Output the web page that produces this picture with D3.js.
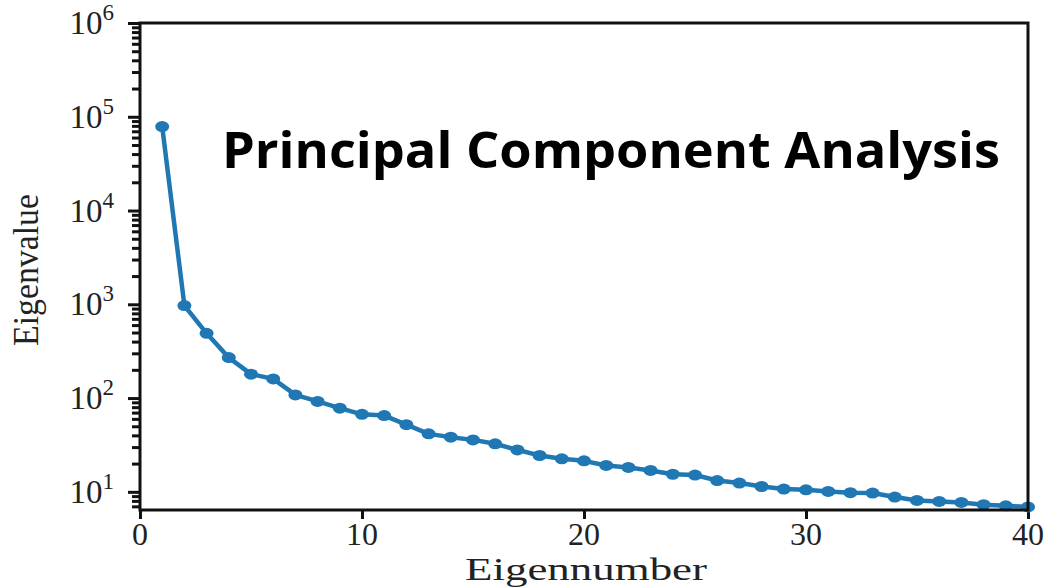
<!DOCTYPE html>
<html>
<head>
<meta charset="utf-8">
<script src="https://cdn.jsdelivr.net/npm/d3@7"></script>
<style>
  body { margin: 0; background: #fff; }
  svg { display: block; }
</style>
</head>
<body>
<svg id="chart" width="1052" height="587"></svg>
<script>
// values
var eigennumber = [1, 2, 3, 4, 5, 6, 7, 8, 9, 10, 11, 12, 13, 14, 15, 16, 17, 18, 19, 20,
                   21, 22, 23, 24, 25, 26, 27, 28, 29, 30, 31, 32, 33, 34, 35, 36, 37, 38, 39, 40];
var eigenvalue = [78500, 970, 490, 270, 180, 160, 108, 92, 78, 67,
                  65, 52, 41.5, 38.3, 35.8, 32.5, 28, 24.4, 22.5, 21.4,
                  19.1, 18.2, 16.9, 15.4, 15.1, 13.2, 12.4, 11.4, 10.7, 10.5,
                  10.1, 9.8, 9.7, 8.8, 8.1, 7.9, 7.7, 7.3, 7.1, 6.9];
var xTicks = [0, 10, 20, 30, 40];
var yMajor = [10, 100, 1000, 10000, 100000, 1000000];
var title = "Principal Component Analysis";
var xLabel = "Eigennumber";
var yLabel = "Eigenvalue";

var svg = d3.select("#chart");
// note: "top" is reserved on window, so plot edges get a prefix
var pLeft = 140, pTop = 23, pRight = 1028, pBottom = 510;
var blue = "#1f77b4";
var serif = "'Liberation Serif', 'DejaVu Serif', serif";

var x = d3.scaleLinear().domain([0, 40]).range([pLeft, pRight]);
var y = d3.scaleLog().domain([6.4, 1e6]).range([pBottom, pTop]);

// minor ticks: everything d3 gives that isn't a power of ten
var minor = y.ticks().filter(function (d) {
    return Math.abs(Math.log10(d) - Math.round(Math.log10(d))) > 1e-6;
});

var yMinorAxis = svg.append("g")
    .attr("transform", "translate(" + pLeft + ",0)")
    .call(d3.axisLeft(y).tickValues(minor).tickSize(8).tickFormat(""));
var yMajorAxis = svg.append("g")
    .attr("transform", "translate(" + pLeft + ",0)")
    .call(d3.axisLeft(y).tickValues(yMajor).tickSize(12).tickFormat(""));
var xAxis = svg.append("g")
    .attr("transform", "translate(0," + pBottom + ")")
    .call(d3.axisBottom(x).tickValues(xTicks).tickSize(9).tickFormat(""));

[yMinorAxis, yMajorAxis, xAxis].forEach(function (g) {
    g.select(".domain").remove();
    g.selectAll(".tick line").attr("stroke", "#111").attr("stroke-width", 3);
});

// y tick labels as 10 with superscript exponent
yMajor.forEach(function (v) {
    var t = svg.append("text")
        .attr("x", 114)
        .attr("y", y(v) + 11)
        .attr("text-anchor", "end")
        .attr("font-family", serif)
        .attr("font-size", 33)
        .attr("fill", "#222");
    t.append("tspan").text("10");
    t.append("tspan")
        .attr("dy", -14)
        .attr("font-size", 23)
        .text(Math.round(Math.log10(v)));
});

xTicks.forEach(function (v) {
    svg.append("text")
        .attr("x", x(v))
        .attr("y", 545)
        .attr("text-anchor", "middle")
        .attr("font-family", serif)
        .attr("font-size", 32)
        .attr("fill", "#222")
        .text(v);
});

// the line and its markers
var pts = eigennumber.map(function (n, i) { return { n: n, v: eigenvalue[i] }; });

svg.append("path")
    .datum(pts)
    .attr("fill", "none")
    .attr("stroke", blue)
    .attr("stroke-width", 4.5)
    .attr("stroke-linejoin", "round")
    .attr("d", d3.line()
        .x(function (d) { return x(d.n); })
        .y(function (d) { return y(d.v); }));

svg.selectAll(".dot")
    .data(pts)
    .enter().append("ellipse")
    .attr("class", "dot")
    .attr("cx", function (d) { return x(d.n); })
    .attr("cy", function (d) { return y(d.v); })
    .attr("rx", 7)
    .attr("ry", 5.5)
    .attr("fill", blue);

// frame
svg.append("rect")
    .attr("x", pLeft)
    .attr("y", pTop)
    .attr("width", pRight - pLeft)
    .attr("height", pBottom - pTop)
    .attr("fill", "none")
    .attr("stroke", "#111")
    .attr("stroke-width", 3);

// axis titles (source image is stretched sideways)
svg.append("text")
    .attr("x", 465)
    .attr("y", 580)
    .attr("font-family", serif)
    .attr("font-size", 32)
    .attr("fill", "#222")
    .attr("textLength", 242)
    .attr("lengthAdjust", "spacingAndGlyphs")
    .text(xLabel);

svg.append("text")
    .attr("transform", "translate(38,346) rotate(-90)")
    .attr("x", 0)
    .attr("y", 0)
    .attr("font-family", serif)
    .attr("font-size", 36)
    .attr("fill", "#222")
    .attr("textLength", 152)
    .attr("lengthAdjust", "spacingAndGlyphs")
    .text(yLabel);

// overlay title
svg.append("text")
    .attr("x", 222)
    .attr("y", 168)
    .attr("font-family", "'Open Sans', 'Noto Sans', sans-serif")
    .attr("font-weight", "bold")
    .attr("font-size", 50)
    .attr("fill", "#000")
    .attr("textLength", 778)
    .attr("lengthAdjust", "spacingAndGlyphs")
    .text(title);
</script>
</body>
</html>
